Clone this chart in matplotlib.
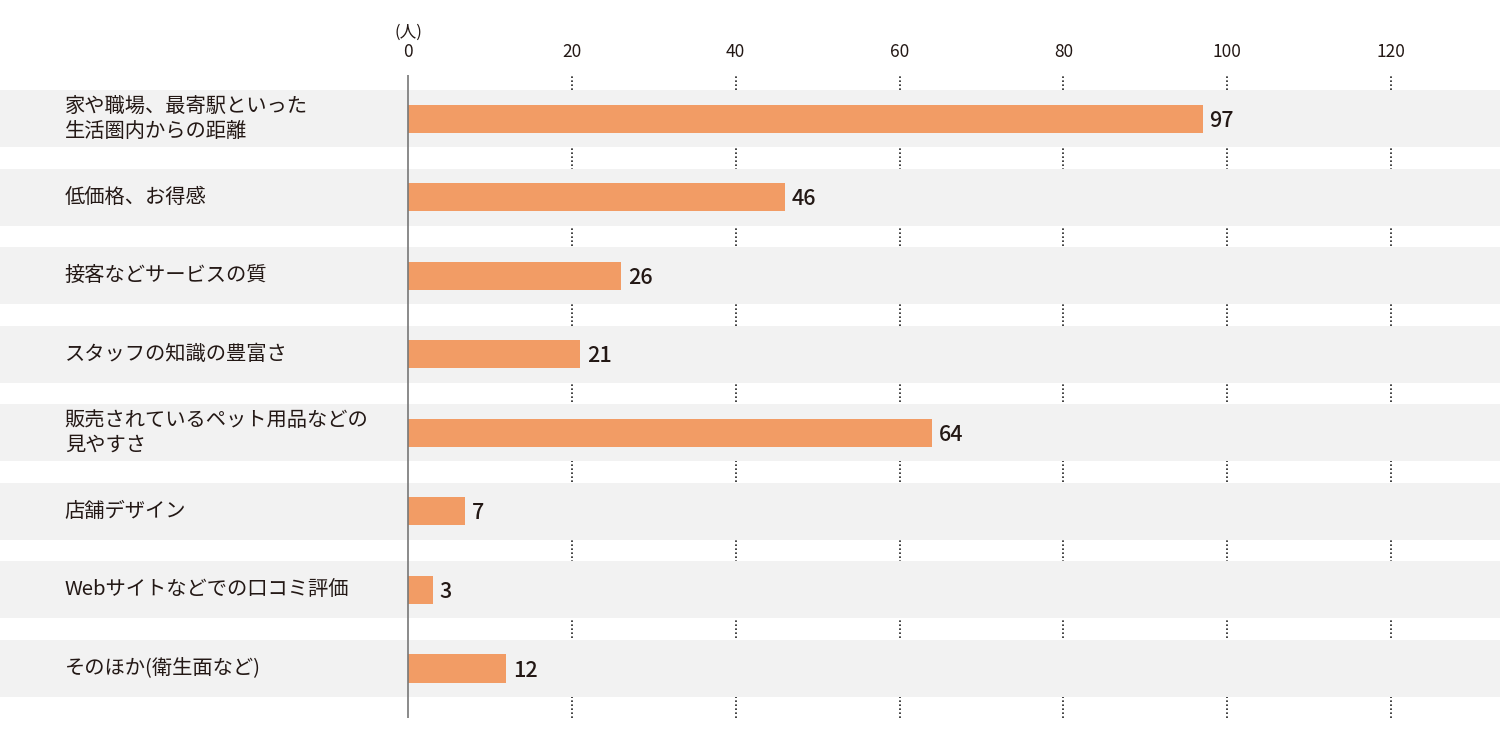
import matplotlib
matplotlib.use("Agg")
import matplotlib.pyplot as plt

plt.rcParams["font.family"] = ["Noto Sans CJK JP", "DejaVu Sans"]

# データ
categories = [
    "家や職場、最寄駅といった\n生活圏内からの距離",
    "低価格、お得感",
    "接客などサービスの質",
    "スタッフの知識の豊富さ",
    "販売されているペット用品などの\n見やすさ",
    "店舗デザイン",
    "Webサイトなどでの口コミ評価",
    "そのほか(衛生面など)",
]
values = [97, 46, 26, 21, 64, 7, 3, 12]
ticks = [0, 20, 40, 60, 80, 100, 120]
unit_label = "(人)"

band_color = "#f2f2f2"
bar_color = "#f29c65"
text_color = "#231815"

fig = plt.figure(figsize=(15, 7.5), dpi=100)
ax = fig.add_axes([0, 0.0427, 1, 0.9 - 0.0427])

# 背景の帯
for i in range(len(categories)):
    ax.axhspan(i - 0.3625, i + 0.3625, color=band_color, zorder=1, lw=0)

# 点線の目盛線（帯の下）
for t in ticks[1:]:
    ax.axvline(t, color="#222222", lw=1.2, linestyle=(0, (1, 1.4)), zorder=0)

# 棒
y = list(range(len(categories)))
ax.barh(y, values, height=0.357, color=bar_color, zorder=3)

# 0の縦線
ax.axvline(0, color="#777777", lw=1.2, zorder=4)

# 数値ラベル
for i, v in enumerate(values):
    ax.annotate(str(v), (v, i), xytext=(5, -1.5), textcoords="offset points",
                va="center", ha="left", fontsize=15.5, color=text_color,
                fontweight="medium", zorder=5)

# 項目ラベル
for i, c in enumerate(categories):
    ax.text(-41.9, i, c, ha="left", va="center", fontsize=14.6,
            color=text_color, linespacing=1.25, zorder=5)

ax.set_xlim(-49.8, 133.3)
ax.set_ylim(7.63, -0.554)

ax.xaxis.tick_top()
ax.set_xticks(ticks)
ax.set_xticklabels([str(t) for t in ticks], fontsize=12.5, color=text_color)
ax.tick_params(axis="x", length=0, pad=10)
ax.set_yticks([])
for s in ax.spines.values():
    s.set_visible(False)

# 単位
ax.annotate(unit_label, (0, 0), xycoords=("data", "figure fraction"),
            xytext=(0, 1 - 32 / 750), textcoords=("data", "figure fraction"),
            ha="center", va="center", fontsize=12, color=text_color)

fig.savefig("out.png", dpi=100)
